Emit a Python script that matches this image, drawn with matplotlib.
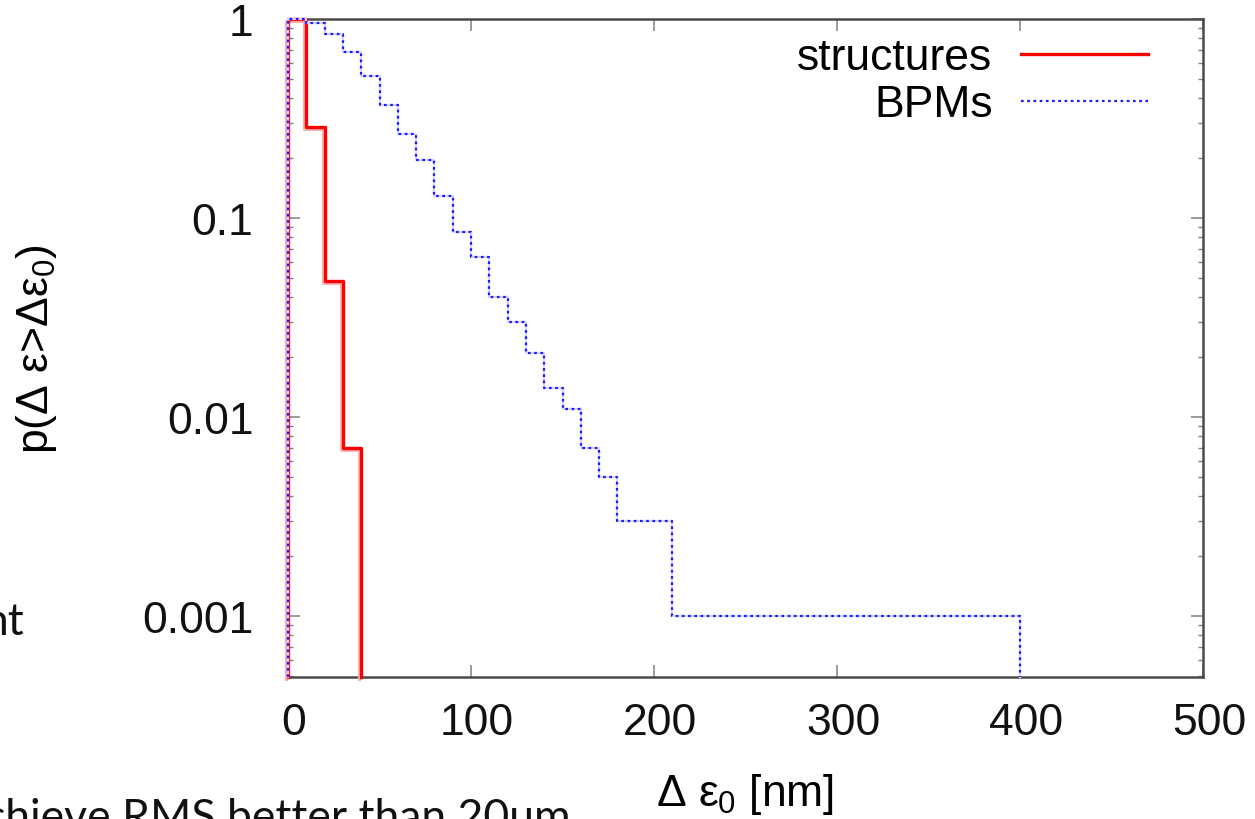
import numpy as np
import matplotlib
matplotlib.use("Agg")
import matplotlib.pyplot as plt
import matplotlib.ticker as mticker
import matplotlib.transforms as mtransforms

# threshold on the emittance growth [nm] and P(growth > threshold), step data
struct_x = [0, 0, 10, 20, 30, 40]
struct_p = [0, 1.0, 0.286, 0.048, 0.007, 0]

bpm_x = [0, 0, 10, 20, 30, 40, 50, 60, 70, 80, 90, 100, 110, 120, 130, 140,
         150, 160, 170, 180, 210, 400]
bpm_p = [0, 1.0, 0.96, 0.84, 0.68, 0.52, 0.37, 0.264, 0.196, 0.129, 0.085,
         0.064, 0.040, 0.030, 0.021, 0.014, 0.011, 0.007, 0.005, 0.003,
         0.001, 0]

y_ticks = [1, 0.1, 0.01, 0.001]
y_ticklabels = ['1', '0.1', '0.01', '0.001']
x_ticks = [0, 100, 200, 300, 400, 500]

YMIN, YMAX = 10 ** -3.307, 1.0

plt.rcParams['font.family'] = ['Liberation Sans', 'DejaVu Sans']
plt.rcParams['mathtext.fontset'] = 'custom'
plt.rcParams['mathtext.rm'] = 'Liberation Sans'
plt.rcParams['mathtext.it'] = 'Liberation Sans'
plt.rcParams['mathtext.sf'] = 'Liberation Sans'

W, H = 1255, 820
fig = plt.figure(figsize=(W / 100, H / 100), dpi=100)
ax = fig.add_axes([288 / W, 1 - 678 / H, (1203 - 288) / W, (678 - 20) / H])

# values of 0 sit on the floor of the log axis (gnuplot draws them to the edge)
s_y = np.maximum(struct_p, YMIN)
b_y = np.maximum(bpm_p, YMIN)

# pale halo of the red line (left / below), as in the scanned original
shadow = mtransforms.offset_copy(ax.transData, fig=fig, x=-2, y=-2, units='dots')
ax.step(struct_x, s_y, where='post', color='#f6b4b4', linewidth=2.3,
        clip_on=False, zorder=2.8, transform=shadow)
ax.step(struct_x, s_y, where='post', color='#ff0000', linewidth=2.4,
        clip_on=False, zorder=3, label='structures')
ax.step(bpm_x, b_y, where='post', color='#d4d4ff', linewidth=1.6,
        clip_on=False, zorder=3.5)
ax.step(bpm_x, b_y, where='post', color='#1a1aff', linewidth=1.6,
        linestyle=(0, (1.2, 1.6)), clip_on=False, zorder=4, label='BPMs')

ax.set_yscale('log')
ax.set_ylim(YMIN, YMAX)
ax.set_xlim(0, 500)
ax.set_yticks(y_ticks)
ax.set_yticklabels(y_ticklabels)
ax.yaxis.set_minor_locator(mticker.LogLocator(base=10, subs=np.arange(2, 10)))
ax.yaxis.set_minor_formatter(mticker.NullFormatter())
ax.set_xticks(x_ticks)

for s in ax.spines.values():
    s.set_color('#4a4a4a')
    s.set_linewidth(1.8)

ax.tick_params(which='both', direction='in', top=True, right=True,
               color='#808080', labelcolor='#111111')
ax.tick_params(which='major', length=8.5, width=1.1, labelsize=32)
ax.tick_params(axis='y', which='major', pad=25)
ax.tick_params(axis='x', which='major', pad=18)
ax.tick_params(which='minor', length=3.5, width=1.0)

# gnuplot puts the x tick labels a few pixels right of the tick
shift = mtransforms.ScaledTranslation(6 / 100, 0, fig.dpi_scale_trans)
for lab in ax.get_xticklabels():
    lab.set_transform(lab.get_transform() + shift)

ax.set_xlabel(r'$\Delta\ \varepsilon_0$ [nm]', fontsize=32)
ax.xaxis.set_label_coords(0.5, -0.143)
ax.set_ylabel(r'p($\Delta\ \varepsilon$>$\Delta\varepsilon_0$)', fontsize=32)
ax.yaxis.set_label_coords(-0.25, 0.5)

leg = ax.legend(loc='upper right', bbox_to_anchor=(0.94, 0.972), frameon=False,
                markerfirst=False, fontsize=32, handlelength=2.85,
                handletextpad=0.65, labelspacing=0.13, borderpad=0,
                borderaxespad=0)

# fragments of the surrounding slide text
fig.text(25 / W, 1 - 623 / H, 'nt', ha='right', va='center',
         fontsize=32, family=['Lato', 'DejaVu Sans'], color='#111111')
fig.text(571 / W, 1 - 798 / H, 'chieve RMS better than 20um', ha='right',
         va='top', fontsize=32, family=['Lato', 'DejaVu Sans'],
         color='#111111')

fig.savefig('out.png', dpi=100)
